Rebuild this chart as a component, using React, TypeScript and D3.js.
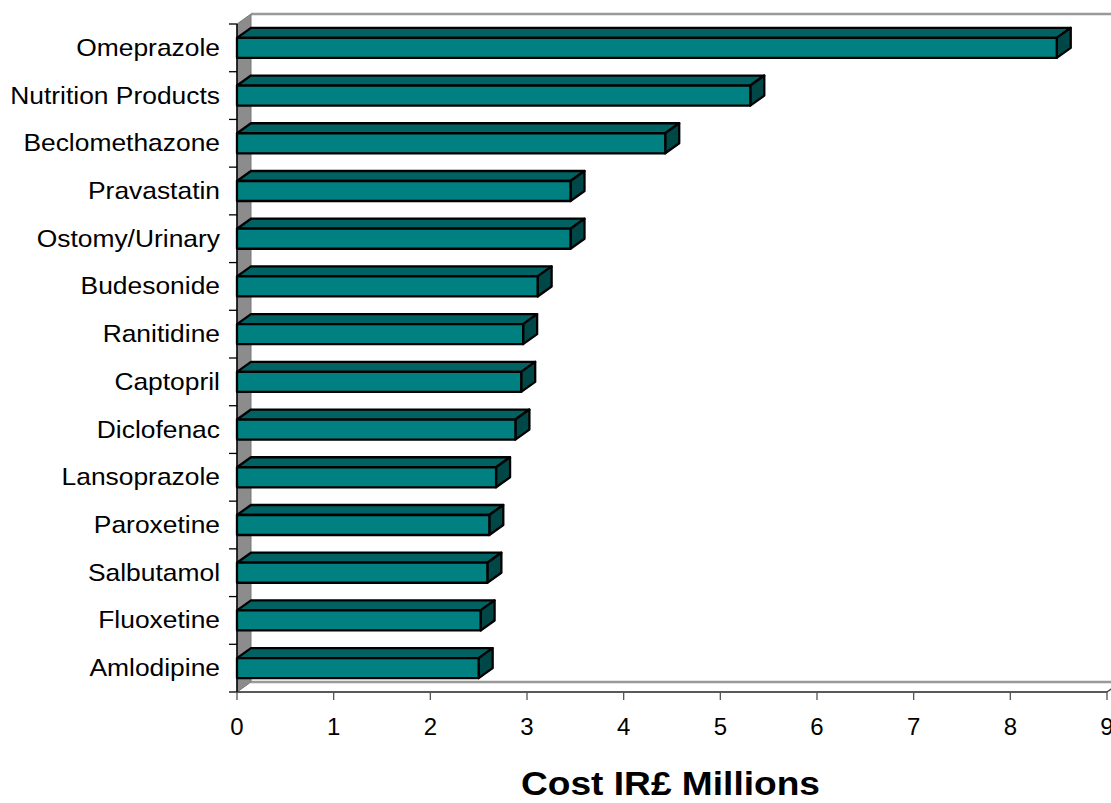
import React from "react";
import * as d3 from "d3";

const categories = [
  "Omeprazole",
  "Nutrition Products",
  "Beclomethazone",
  "Pravastatin",
  "Ostomy/Urinary",
  "Budesonide",
  "Ranitidine",
  "Captopril",
  "Diclofenac",
  "Lansoprazole",
  "Paroxetine",
  "Salbutamol",
  "Fluoxetine",
  "Amlodipine",
];
const values = [8.48, 5.31, 4.43, 3.45, 3.45, 3.11, 2.96, 2.94, 2.88, 2.68, 2.61, 2.59, 2.52, 2.5];
const xTicks = [0, 1, 2, 3, 4, 5, 6, 7, 8, 9];
const axisTitle = "Cost IR£ Millions";

const W = 1111;
const H = 803;
const X0 = 237;
const X1 = 1107;
const YTOP = 24;
const YBOT = 692;
const DX = 14;
const DY = -10;

export default function App() {
  const x = d3.scaleLinear().domain([0, 9]).range([X0, X1]);
  const y = d3.scaleBand<string>().domain(categories).range([YTOP, YBOT]).padding(0);
  const bw = y.bandwidth();
  const faceOff = bw * 0.29;
  const faceH = bw * 0.42;
  const font = "'Liberation Sans', Arial, sans-serif";

  return (
    <svg
      width={W}
      height={H}
      style={{ position: "absolute", left: 0, top: 0, display: "block", background: "#fff" }}
    >
      {/* back wall */}
      <rect x={X0 + DX} y={YTOP + DY} width={X1 - X0 + 20} height={YBOT - YTOP} fill="#fff" />
      <line x1={X0 + DX} y1={YTOP + DY} x2={W} y2={YTOP + DY} stroke="#999" strokeWidth={2.5} />
      {/* floor */}
      <polygon
        points={`${X0},${YBOT} ${X1},${YBOT} ${X1 + DX},${YBOT + DY} ${X0 + DX},${YBOT + DY}`}
        fill="#fff"
      />
      <line x1={X0 + DX} y1={YBOT + DY} x2={W} y2={YBOT + DY} stroke="#999" strokeWidth={2.5} />
      {/* left wall */}
      <polygon
        points={`${X0},${YTOP} ${X0 + DX},${YTOP + DY} ${X0 + DX},${YBOT + DY} ${X0},${YBOT}`}
        fill="#8c8c8c"
        stroke="#777"
        strokeWidth={1}
      />
      {/* axes */}
      <line x1={X0} y1={YTOP} x2={X0} y2={YBOT} stroke="#000" strokeWidth={1.5} />
      <line x1={X0} y1={YBOT} x2={X1} y2={YBOT} stroke="#222" strokeWidth={1.5} />
      <line x1={X1} y1={YBOT} x2={X1 + DX} y2={YBOT + DY} stroke="#444" strokeWidth={1.5} />
      {d3.range(categories.length + 1).map((i) => {
        const yy = YTOP + i * bw;
        return <line key={"yt" + i} x1={X0 - 8} x2={X0} y1={yy} y2={yy} stroke="#000" strokeWidth={1.3} />;
      })}
      {xTicks.map((t) => (
        <g key={"xt" + t}>
          <line x1={x(t)} x2={x(t)} y1={YBOT} y2={YBOT + 8} stroke="#555" strokeWidth={1.3} />
          <text
            x={x(t)}
            y={735}
            textAnchor="middle"
            fontFamily={font}
            fontSize={24}
            fill="#000"
          >
            {t}
          </text>
        </g>
      ))}
      {/* bars */}
      {categories.map((c, i) => {
        const top = (y(c) as number) + faceOff;
        const bot = top + faceH;
        const xl = x(0);
        const xr = x(values[i]);
        return (
          <g key={c} stroke="#000" strokeWidth={2.3} strokeLinejoin="round">
            <polygon
              points={`${xl},${top} ${xl + DX},${top + DY} ${xr + DX},${top + DY} ${xr},${top}`}
              fill="#006262"
            />
            <polygon
              points={`${xr},${top} ${xr + DX},${top + DY} ${xr + DX},${bot + DY} ${xr},${bot}`}
              fill="#004848"
            />
            <rect x={xl} y={top} width={xr - xl} height={faceH} fill="#008080" />
          </g>
        );
      })}
      {/* category labels */}
      {categories.map((c) => {
        const cy = (y(c) as number) + bw / 2;
        return (
          <text
            key={"l" + c}
            transform={`translate(220,${cy + 8}) scale(1.1,1)`}
            textAnchor="end"
            fontFamily={font}
            fontSize={24}
            fill="#000"
          >
            {c}
          </text>
        );
      })}
      <text
        x={521}
        y={795}
        fontFamily={font}
        fontSize={32.5}
        fontWeight="bold"
        textLength={299}
        lengthAdjust="spacingAndGlyphs"
        fill="#000"
      >
        {axisTitle}
      </text>
    </svg>
  );
}
